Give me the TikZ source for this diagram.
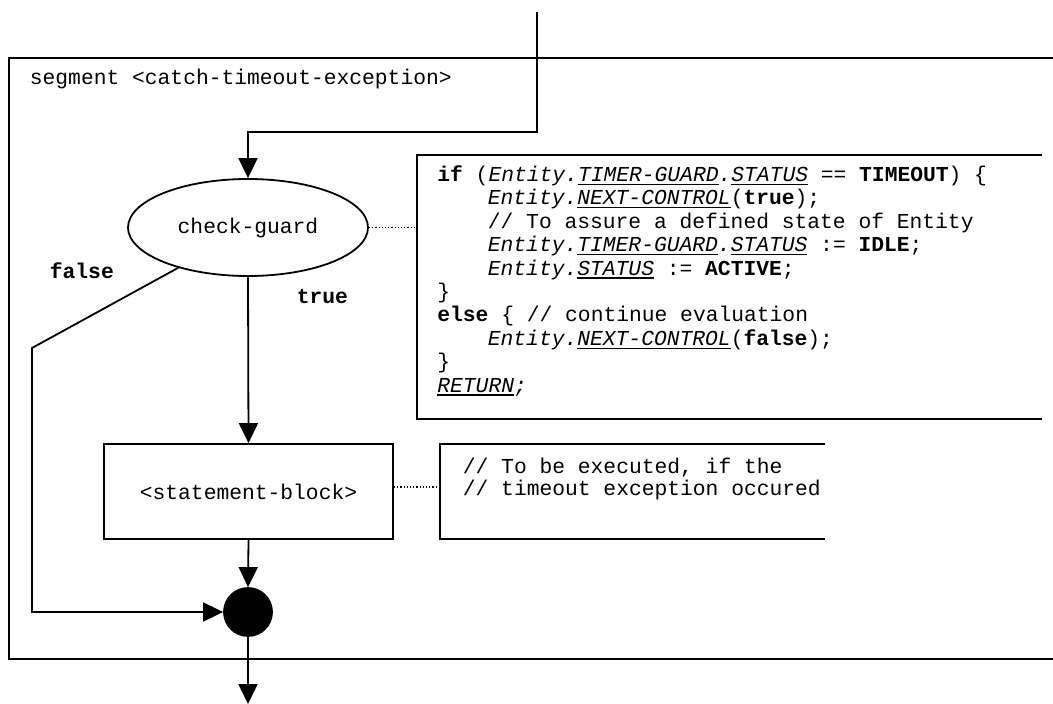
\documentclass[tikz,border=0pt]{standalone}
\usepackage{fontspec}
\setmainfont{Liberation Mono}
\usetikzlibrary{arrows.meta,shapes.geometric}
\newsavebox\ulbox
\newcommand\myul[1]{\sbox\ulbox{#1}\rlap{\lower3.4pt\hbox{\vrule height 1.1pt depth 0pt width \wd\ulbox}}\usebox\ulbox}
\begin{document}
\begin{tikzpicture}[x=1pt,y=-1pt,line width=1.8pt,
  txt/.style={font=\fontsize{21.3}{23.4}\selectfont, inner sep=0pt},
  codeline/.style={txt, anchor=base west},
  arr/.style={-{Triangle[length=20pt,width=19pt]}},
  note/.style={dotted, line width=1.2pt},
  decision/.style={ellipse, draw, txt, minimum width=240pt, minimum height=97pt},
  stmt/.style={rectangle, draw, txt, minimum width=289pt, minimum height=95pt},
  junction/.style={circle, fill=black, draw=black, inner sep=0pt, minimum size=48pt}]
\useasboundingbox (0,0) rectangle (1053,704);

% frames
\draw (1053,58) -- (9,58) -- (9,659) -- (1053,659);
\draw (1042,155) -- (417,155) -- (417,419) -- (1042,419);
\draw (825,444) -- (440,444) -- (440,539) -- (825,539);

\node[codeline] (seg) at (29,84) {segment <catch-timeout-exception>};

% nodes
\node[decision] (cg) at (248,227.5) {check-guard};
\node[stmt] (sb) at (248.5,491.5) {<statement-block>};
\node[junction] (j) at (248,612) {};

% coordinates
\coordinate (top) at (537,12);
\coordinate (b1) at (537,132);
\coordinate (b2) at (248,132);
\coordinate (fa) at (32,348);
\coordinate (fb) at (32,612);
\coordinate (bot) at (248,704);
\coordinate (cbw) at (417,227.5);
\coordinate (cmw) at (440,487);

% connectors
\draw[arr] (top) -- (b1) -- (b2) -- (cg.north);
\draw[arr] (cg.south) -- (sb.north);
\draw[arr] (cg.210) -- (fa) -- (fb) -- (j.west);
\draw[arr] (sb.south) -- (j.north);
\draw[arr] (j.south) -- (bot);
\draw[note] (cg.east) -- (cbw);
\draw[note] (sb.east |- cmw) -- (cmw);

% labels
\node[codeline] (lf) at (49,278) {\textbf{false}};
\node[codeline] (lt) at (296,303) {\textbf{true}};

% code
\node[codeline] (c1) at (436.5,181.5) {\textbf{if} (\textit{Entity.\myul{TIMER-GUARD}.\myul{STATUS}} == \textbf{TIMEOUT}) \{};
\node[codeline] (c2) at (487,204.9) {\textit{Entity.\myul{NEXT-CONTROL}}(\textbf{true});};
\node[codeline] (c3) at (487,228.3) {// To assure a defined state of Entity};
\node[codeline] (c4) at (487,251.7) {\textit{Entity.\myul{TIMER-GUARD}.\myul{STATUS}} := \textbf{IDLE};};
\node[codeline] (c5) at (487,275.1) {\textit{Entity.\myul{STATUS}} := \textbf{ACTIVE};};
\node[codeline] (c6) at (436.5,298.5) {\}};
\node[codeline] (c7) at (436.5,321.9) {\textbf{else} \{ // continue evaluation};
\node[codeline] (c8) at (487,345.3) {\textit{Entity.\myul{NEXT-CONTROL}}(\textbf{false});};
\node[codeline] (c9) at (436.5,368.7) {\}};
\node[codeline] (c10) at (436.5,392.1) {\textit{\myul{RETURN};}};

% comment
\node[codeline] (m1) at (462,473) {// To be executed, if the};
\node[codeline] (m2) at (462,495) {// timeout exception occured};
\end{tikzpicture}
\end{document}
